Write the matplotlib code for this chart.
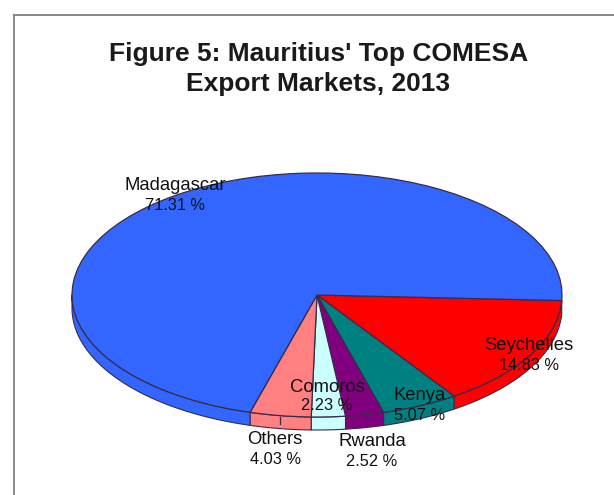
import numpy as np
import matplotlib
matplotlib.use('Agg')
import matplotlib.pyplot as plt
from matplotlib.lines import Line2D

plt.rcParams['font.family'] = ['Liberation Sans', 'DejaVu Sans']

categories = ['Seychelles', 'Kenya', 'Rwanda', 'Comoros', 'Others', 'Madagascar']
values = [14.83, 5.07, 2.52, 2.23, 4.03, 71.31]
colors = ['#ff0000', '#008080', '#800080', '#ccffff', '#ff8080', '#3366ff']
title_lines = ["Figure 5: Mauritius' Top COMESA", 'Export Markets, 2013']
# label centre x, name y, value y (pixels)
label_px = {'Seychelles': (529, 345, 366), 'Kenya': (420, 395, 416), 'Rwanda': (372, 442, 462),
            'Comoros': (327, 388, 406), 'Others': (275, 440, 460), 'Madagascar': (175, 186, 205)}

W, H = 614, 495
CX, CY, RX, RY = 317, 295, 245, 122
DEPTH = 13 / RY
START = -2.6
EDGE = '#3a2a4a'

fig = plt.figure(figsize=(W / 100, H / 100), dpi=100, facecolor='white')
ax = fig.add_axes([0, 0, 1, 1])

# side wall of the pie, only the part of each slice facing the viewer
total = sum(values)
a = START
for v, c in zip(values, colors):
    b = a - v / total * 360
    lo, hi = max(b, -180), min(a, 0)
    if hi > lo:
        t = np.radians(np.linspace(hi, lo, 80))
        xs = np.concatenate([np.cos(t), np.cos(t[::-1])])
        ys = np.concatenate([np.sin(t), np.sin(t[::-1]) - DEPTH])
        ax.fill(xs, ys, facecolor=c, edgecolor=EDGE, linewidth=0.8, zorder=1)
    a = b

ax.pie(values, colors=colors, startangle=START, counterclock=False, radius=1,
       wedgeprops=dict(edgecolor=EDGE, linewidth=0.9, zorder=2))
ax.set_aspect('auto')
ax.set_xlim(-CX / RX, (W - CX) / RX)
ax.set_ylim((CY - H) / RY, CY / RY)
ax.set_position([0, 0, 1, 1])

# short leader ticks of the two labels placed below the pie
a = START
for v, name in zip(values, categories):
    b = a - v / total * 360
    if name in ('Others', 'Rwanda'):
        m = np.radians((a + b) / 2)
        ax.plot([np.cos(m)] * 2, [np.sin(m) - 1 / RY, np.sin(m) - 8 / RY], color=EDGE, lw=0.9, zorder=3)
    a = b

def px(x, y):
    return x / W, 1 - y / H

for i, line in enumerate(title_lines):
    fig.text(*px(318.5, 54 + 30 * i), line, ha='center', va='center',
             fontsize=19, fontweight='bold', color='#1a1a1a')

for name, v in zip(categories, values):
    x, y1, y2 = label_px[name]
    fig.text(*px(x, y1), name, ha='center', va='center', fontsize=13.3, color='#111111', zorder=5)
    fig.text(*px(x, y2), f'{v:.2f} %', ha='center', va='center', fontsize=11.8, color='#111111', zorder=5)

for xs, ys in [((14, 14), (15, H)), ((14, W), (15, 15))]:
    fig.add_artist(Line2D([x / W for x in xs], [1 - y / H for y in ys], color='#808080', lw=1.3))

fig.savefig('out.png', dpi=100)
